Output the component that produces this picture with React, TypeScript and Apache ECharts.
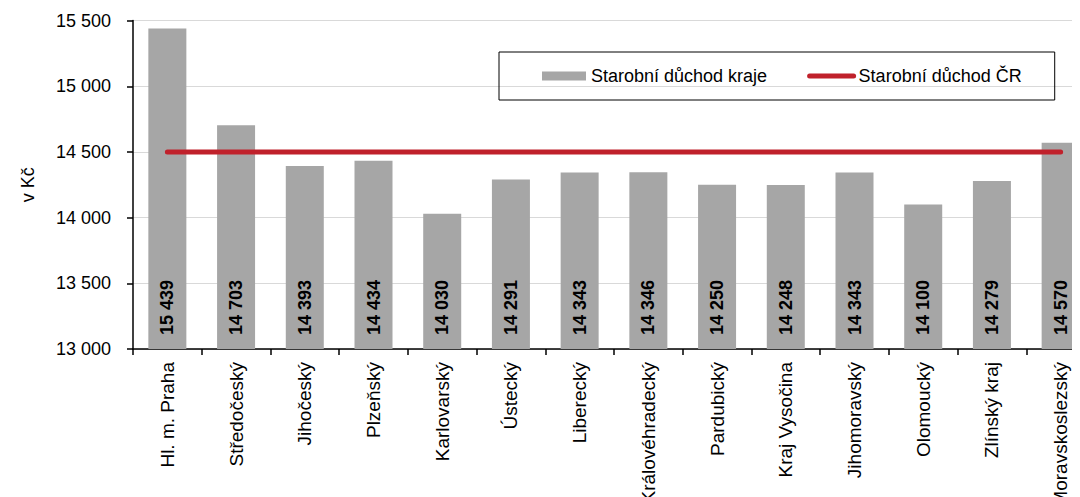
import React, { useEffect, useRef } from "react";
import * as echarts from "echarts";

const categories = [
  "Hl. m. Praha",
  "Středočeský",
  "Jihočeský",
  "Plzeňský",
  "Karlovarský",
  "Ústecký",
  "Liberecký",
  "Královéhradecký",
  "Pardubický",
  "Kraj Vysočina",
  "Jihomoravský",
  "Olomoucký",
  "Zlínský kraj",
  "Moravskoslezský",
];
const regionValues = [15439, 14703, 14393, 14434, 14030, 14291, 14343, 14346, 14250, 14248, 14343, 14100, 14279, 14570];
const czValues = [14500, 14500, 14500, 14500, 14500, 14500, 14500, 14500, 14500, 14500, 14500, 14500, 14500, 14500];
const yMin = 13000;
const yMax = 15500;
const yInterval = 500;

const FONT = "'Liberation Sans', Arial, sans-serif";
const fmt = (v: number) => String(Math.round(v)).replace(/\B(?=(\d{3})+(?!\d))/g, " ");

export default function App() {
  const ref = useRef<HTMLDivElement>(null);
  useEffect(() => {
    if (!ref.current) return;
    const chart = echarts.init(ref.current, null, { renderer: "svg" });
    chart.setOption({
      animation: false,
      textStyle: { fontFamily: FONT },
      grid: {
        left: 133,
        top: 20.6,
        width: 962,
        height: 328.4,
        containLabel: false,
        outerBoundsMode: "none",
      },
      legend: {
        left: 499,
        top: 52,
        padding: [15, 33, 15, 43],
        borderColor: "#000",
        borderWidth: 1,
        itemGap: 40,
        itemWidth: 44,
        itemHeight: 9,
        textStyle: { fontFamily: FONT, fontSize: 18, color: "#000" },
        data: [
          { name: "Starobní důchod kraje", icon: "rect" },
          {
            name: "Starobní důchod ČR",
            itemStyle: { opacity: 0 },
            lineStyle: { color: "#c0212b", width: 5, cap: "round" },
          },
        ],
      },
      xAxis: {
        type: "category",
        data: categories,
        boundaryGap: true,
        axisLine: { lineStyle: { color: "#000", width: 1.5 } },
        axisTick: { show: true, length: 6, alignWithLabel: false, lineStyle: { color: "#000", width: 1.5 } },
        axisLabel: {
          rotate: 90,
          interval: 0,
          margin: 13,
          fontFamily: FONT,
          fontSize: 19,
          color: "#000",
        },
      },
      yAxis: {
        type: "value",
        min: yMin,
        max: yMax,
        interval: yInterval,
        name: "v Kč",
        nameLocation: "middle",
        nameGap: 96,
        nameTextStyle: { fontFamily: FONT, fontSize: 18, color: "#000" },
        axisLine: { show: true, lineStyle: { color: "#000", width: 1.5 } },
        axisTick: { show: true, length: 6, lineStyle: { color: "#000", width: 1.5 } },
        axisLabel: {
          margin: 22,
          fontFamily: FONT,
          fontSize: 18,
          color: "#000",
          formatter: (v: number) => fmt(v),
        },
        splitLine: { show: true, lineStyle: { color: "#d9d9d9", width: 1.2 } },
      },
      series: [
        {
          name: "Starobní důchod kraje",
          type: "bar",
          data: regionValues,
          barWidth: 38,
          itemStyle: { color: "#a6a6a6" },
          label: {
            show: true,
            position: "insideBottom",
            rotate: 90,
            align: "left",
            verticalAlign: "middle",
            distance: 14,
            fontFamily: FONT,
            fontSize: 18,
            fontWeight: "bold",
            color: "#000",
            formatter: (p: any) => fmt(p.value),
          },
        },
        {
          name: "Starobní důchod ČR",
          type: "line",
          data: czValues,
          symbol: "none",
          showSymbol: false,
          lineStyle: { color: "#c0212b", width: 5, cap: "round" },
          itemStyle: { color: "#c0212b" },
          z: 5,
        },
      ],
    });
    return () => chart.dispose();
  }, []);
  return <div ref={ref} style={{ width: 1080, height: 497, marginLeft: -8, marginTop: -8 }} />;
}
